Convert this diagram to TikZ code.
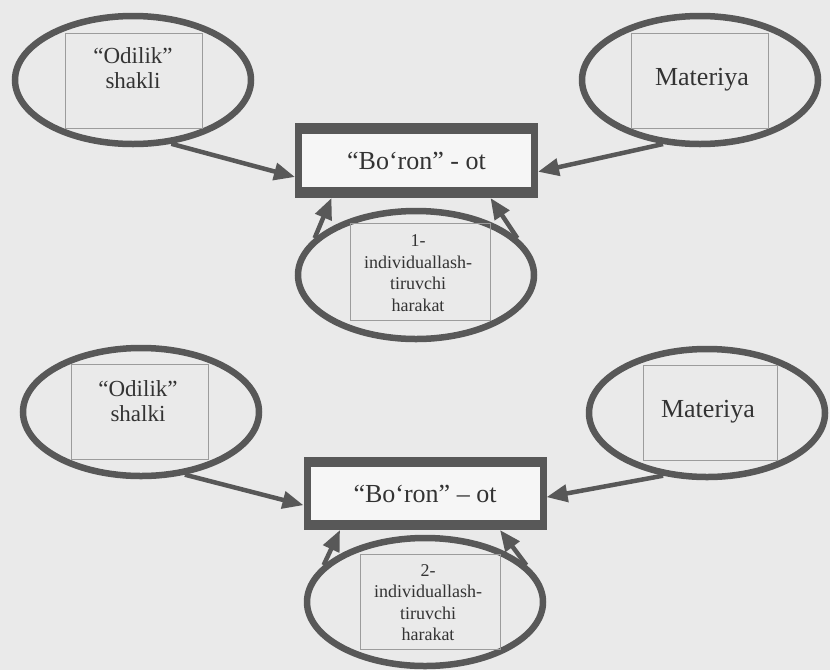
\documentclass[tikz,border=0pt]{standalone}
\usepackage{fontspec}
\setmainfont{Liberation Serif}
\usetikzlibrary{shapes.geometric,arrows.meta,calc}
\definecolor{bgc}{HTML}{EAEAEA}
\definecolor{ring}{HTML}{585858}
\definecolor{thinc}{HTML}{9C9C9C}
\definecolor{ink}{HTML}{333333}
\begin{document}
\begin{tikzpicture}[x=1pt,y=-1pt,
  oval/.style={ellipse, draw=ring, line width=6.5pt, minimum width=236pt, minimum height=128pt, inner sep=0pt},
  innerbox/.style={draw=thinc, line width=0.8pt, minimum width=137pt, minimum height=95pt, inner sep=0pt},
  mainbox/.style={draw=ring, line width=7pt, fill=white!55!bgc, minimum width=236pt, minimum height=68pt, inner sep=0pt, text=ink, font=\fontsize{26}{30}\selectfont},
  band/.style={fill=ring},
  bigtxt/.style={text=ink, align=center, font=\fontsize{26}{30}\selectfont},
  midtxt/.style={text=ink, align=center, font=\fontsize{23}{25}\selectfont},
  smalltxt/.style={text=ink, align=center, font=\fontsize{18}{21.5}\selectfont},
  arr/.style={draw=ring, line width=4.5pt, -{Triangle[length=21pt,width=17pt]}}
]
\useasboundingbox[fill=bgc] (0,0) rectangle (830,670);

% ---------- upper diagram ----------
\node[oval] (oL1) at (133,80) {};
\node[innerbox] (rL1) at (133.5,80.5) {};
\node[midtxt] (tL1) at (133,68) {“Odilik”\\shakli};

\node[oval] (oR1) at (700,80) {};
\node[innerbox] (rR1) at (700,80.5) {};
\node[bigtxt] (tR1) at (702,80) {Materiya};

\node[mainbox] (bx1) at (416.5,160.5) {“Bo‘ron” - ot};
\fill[band] (bx1.north west) rectangle ($(bx1.north east)+(0,11)$);
\fill[band] ($(bx1.south west)+(0,-11)$) rectangle (bx1.south east);

\node[oval] (oB1) at (416,275) {};
\node[innerbox, minimum width=140pt, minimum height=97pt] (rB1) at (420,271.5) {};
\node[smalltxt] (tB1) at (418,273) {1-\\individuallash-\\tiruvchi\\harakat};

\draw[arr] (oL1.-59) -- ($(bx1.south west)!0.28!(bx1.north west)$);
\draw[arr] (oR1.-120) -- ($(bx1.south east)!0.35!(bx1.north east)$);
\draw[arr] (oB1.160) -- ([xshift=-85pt]bx1.south);
\draw[arr] (oB1.20) -- ([xshift=74pt]bx1.south);

% ---------- lower diagram ----------
\node[oval] (oL2) at (141,412) {};
\node[innerbox] (rL2) at (140,411.5) {};
\node[midtxt] (tL2) at (138,401) {“Odilik”\\shalki};

\node[oval] (oR2) at (707,413) {};
\node[innerbox, minimum width=134pt] (rR2) at (710,412.5) {};
\node[bigtxt] (tR2) at (708,412) {Materiya};

\node[mainbox, minimum height=66pt] (bx2) at (425,493.5) {“Bo‘ron” – ot};
\fill[band] (bx2.north west) rectangle ($(bx2.north east)+(0,10)$);
\fill[band] ($(bx2.south west)+(0,-10)$) rectangle (bx2.south east);

\node[oval] (oB2) at (425,602) {};
\node[innerbox, minimum width=140pt] (rB2) at (430,602) {};
\node[smalltxt] (tB2) at (428,602.5) {2-\\individuallash-\\tiruvchi\\harakat};

\draw[arr] (oL2.-55) -- ($(bx2.south west)!0.34!(bx2.north west)$);
\draw[arr] (oR2.-125) -- ($(bx2.south east)!0.45!(bx2.north east)$);
\draw[arr] (oB2.160) -- ([xshift=-85pt]bx2.south);
\draw[arr] (oB2.20) -- ([xshift=75pt]bx2.south);
\end{tikzpicture}
\end{document}
